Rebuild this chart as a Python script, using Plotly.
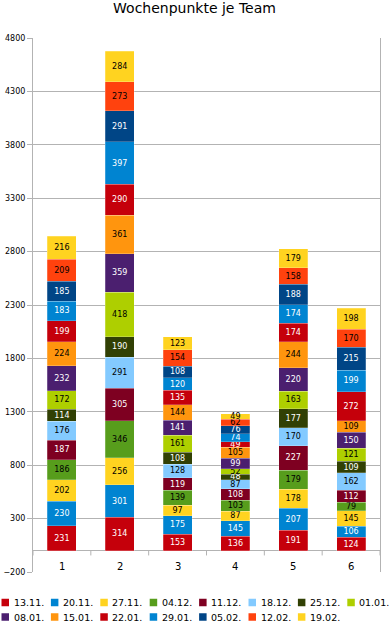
import plotly.graph_objects as go

teams = ["1", "2", "3", "4", "5", "6"]
weeks = ["13.11.", "20.11.", "27.11.", "04.12.", "11.12.", "18.12.", "25.12.", "01.01.",
         "08.01.", "15.01.", "22.01.", "29.01.", "05.02.", "12.02.", "19.02."]

w_13_11 = [231, 314, 153, 136, 191, 124]
w_20_11 = [230, 301, 175, 145, 207, 106]
w_27_11 = [202, 256, 97, 87, 178, 145]
w_04_12 = [186, 346, 139, 103, 179, 79]
w_11_12 = [187, 305, 119, 108, 227, 112]
w_18_12 = [176, 291, 128, 87, 170, 162]
w_25_12 = [114, 190, 108, 48, 177, 109]
w_01_01 = [172, 418, 161, 52, 163, 121]
w_08_01 = [232, 359, 141, 99, 220, 150]
w_15_01 = [224, 361, 144, 105, 244, 109]
w_22_01 = [199, 290, 135, 49, 174, 272]
w_29_01 = [183, 397, 120, 74, 174, 199]
w_05_02 = [185, 291, 108, 76, 188, 215]
w_12_02 = [209, 273, 154, 62, 158, 170]
w_19_02 = [216, 284, 123, 49, 179, 198]

series = [w_13_11, w_20_11, w_27_11, w_04_12, w_11_12, w_18_12, w_25_12, w_01_01,
          w_08_01, w_15_01, w_22_01, w_29_01, w_05_02, w_12_02, w_19_02]

colors = ["#c5000b", "#0084d1", "#ffd320", "#579d1c", "#7e0021", "#83caff", "#314004",
          "#aecf00", "#4b1f6f", "#ff950e", "#c5000b", "#0084d1", "#004586", "#ff420e", "#ffd320"]
text_colors = ["white", "white", "black", "black", "white", "black", "white",
               "black", "white", "black", "white", "white", "white", "black", "black"]

font_family = "DejaVu Sans, Verdana, sans-serif"
W, H = 389, 623

fig = go.Figure()
for name, vals, c, tc in zip(weeks, series, colors, text_colors):
    fig.add_trace(go.Bar(
        x=teams, y=vals, name=name,
        marker=dict(color=c, line=dict(width=0.5, color="rgba(255,255,255,0.45)")),
        text=[str(v) for v in vals], textposition="inside", insidetextanchor="middle",
        textangle=0, textfont=dict(color=tc, size=8, family=font_family),
        showlegend=False,
    ))

# x category labels placed between 0 and -200 (category index positions)
for i, t in enumerate(teams):
    fig.add_annotation(x=i, y=-150, text=t, showarrow=False, xref="x", yref="y",
                       font=dict(size=10, color="#000", family=font_family))
# category boundary tick marks below zero line
for i in range(len(teams) + 1):
    fig.add_shape(type="line", xref="x", yref="y", x0=i - 0.5, x1=i - 0.5, y0=0, y1=-45,
                  line=dict(color="#b3b3b3", width=1))

# legend drawn manually (two rows of eight)
plot_l, plot_r, plot_t, plot_b = 33, 9, 38, 51
pw = W - plot_l - plot_r
ph = H - plot_t - plot_b
def px_to_paper_x(px):
    return (px - plot_l) / pw
def px_to_paper_y(py):
    return (H - plot_b - py) / ph

for i, (name, c) in enumerate(zip(weeks, colors)):
    row, col = divmod(i, 8)
    sx = 1.5 + col * 49.4
    cy = 602.5 + row * 14.5
    fig.add_shape(type="rect", xref="paper", yref="paper",
                  x0=px_to_paper_x(sx), x1=px_to_paper_x(sx + 7.5),
                  y0=px_to_paper_y(cy + 3.75), y1=px_to_paper_y(cy - 3.75),
                  fillcolor=c, line=dict(width=0))
    fig.add_annotation(xref="paper", yref="paper", x=px_to_paper_x(sx + 10),
                       y=px_to_paper_y(cy), xanchor="left", yanchor="middle",
                       text=name, showarrow=False,
                       font=dict(size=9.5, color="#000", family=font_family))

fig.update_layout(
    barmode="stack",
    bargap=0.5,
    width=W, height=H,
    margin=dict(l=plot_l, r=plot_r, t=plot_t, b=plot_b, autoexpand=False),
    paper_bgcolor="white", plot_bgcolor="white",
    title=dict(text="Wochenpunkte je Team", x=0.5, xanchor="center", y=0.995, yanchor="top",
               font=dict(size=14, color="#000", family=font_family)),
    uniformtext=dict(minsize=8, mode="show"),
    showlegend=False,
    xaxis=dict(type="category", showticklabels=False, showgrid=False, ticks="",
               showline=False, range=[-0.5, 5.5], fixedrange=True, automargin=False),
    yaxis=dict(range=[-200, 4800], tick0=-200, dtick=500, showgrid=True,
               gridcolor="#b3b3b3", gridwidth=1, zeroline=True, zerolinecolor="#b3b3b3",
               zerolinewidth=1, showline=True, linecolor="#b3b3b3", mirror=True,
               ticks="outside", ticklen=5, tickcolor="#b3b3b3", automargin=False,
               tickfont=dict(size=8, color="#000", family=font_family)),
)

fig.write_html("out.html", config={"displayModeBar": False},
               post_script="document.body.style.margin='0';document.body.style.overflow='hidden';")
